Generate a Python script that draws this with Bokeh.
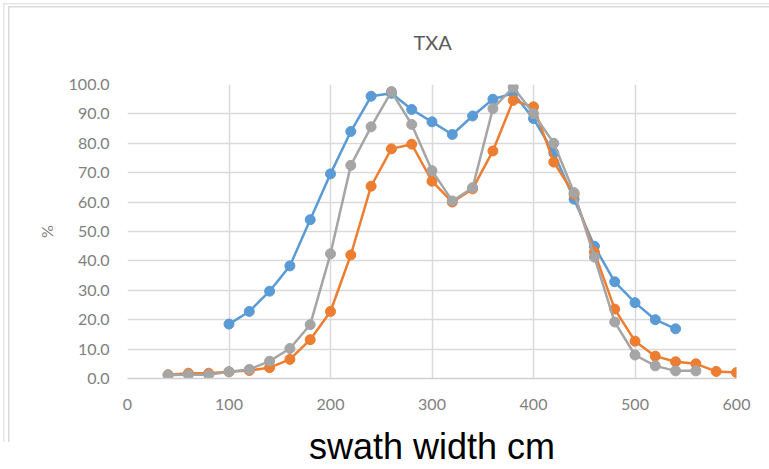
from bokeh.plotting import figure
from bokeh.models import Range1d, FixedTicker, NumeralTickFormatter, ColumnDataSource
from bokeh.embed import file_html
from bokeh.resources import INLINE

# ---- data ----
title_text = "TXA"
x_title = "swath width cm"
y_title = "%"

x_blue = list(range(100, 541, 20))
blue = [18.5, 22.8, 29.7, 38.3, 54.0, 69.6, 84.0, 96.0, 97.0, 91.5,
        87.3, 83.0, 89.3, 95.0, 97.0, 88.4, 76.7, 61.0, 45.0, 32.9,
        25.8, 20.0, 16.9]

x_orange = list(range(40, 601, 20))
orange = [1.3, 1.8, 1.8, 2.3, 2.7, 3.7, 6.5, 13.2, 22.8, 42.0,
          65.4, 78.1, 79.7, 67.1, 60.0, 64.5, 77.4, 94.6, 92.4, 73.6,
          62.6, 43.0, 23.6, 12.7, 7.6, 5.7, 5.0, 2.4, 2.0]

x_gray = list(range(40, 561, 20))
gray = [1.2, 1.3, 1.3, 2.3, 3.1, 5.9, 10.2, 18.3, 42.4, 72.5,
        85.6, 97.6, 86.4, 70.7, 60.4, 64.9, 91.8, 99.1, 90.1, 80.0,
        63.2, 41.3, 19.2, 8.0, 4.3, 2.6, 2.6]

x_ticks = [0, 100, 200, 300, 400, 500, 600]
y_ticks = [0, 10, 20, 30, 40, 50, 60, 70, 80, 90, 100]

series = [
    ("Series1", x_blue, blue, "#5B9BD5"),
    ("Series2", x_orange, orange, "#ED7D31"),
    ("Series3", x_gray, gray, "#A5A5A5"),
]

# ---- layout (pixels) ----
W, H = 769, 469
FL, FR, FT, FB = 127, 736, 84, 381   # plot-area edges

# chart-area frame lines drawn as CSS backgrounds behind the canvas
frame_lines = [  # (left, top, width, height, colour)
    (8, 6, 1.5, 436, "#d9d9d9"),
    (8, 6, 761, 1.5, "#d9d9d9"),
    (3, 3, 1.5, 439, "#e6e6e6"),
    (3, 3, 766, 1.5, "#e6e6e6"),
]
styles = {
    "background-image": ", ".join(f"linear-gradient({c}, {c})" for *_, c in frame_lines),
    "background-position": ", ".join(f"{l}px {t}px" for l, t, *_ in frame_lines),
    "background-size": ", ".join(f"{w}px {h}px" for _, _, w, h, _ in frame_lines),
    "background-repeat": "no-repeat",
    "background-color": "white",
}

p = figure(width=W, height=H, output_backend="svg", toolbar_location=None,
           x_range=Range1d(0, 600), y_range=Range1d(0, 100),
           min_border_left=FL, min_border_right=W - FR,
           min_border_top=FT, min_border_bottom=H - FB,
           styles=styles)
p.outline_line_color = None
p.background_fill_color = "white"
p.border_fill_color = None

# title
p.title.text = title_text
p.title.align = "left"
p.title.vertical_align = "top"
p.title.offset = 286
p.title.standoff = 58
p.title.text_font = "Lato"
p.title.text_font_size = "20px"
p.title.text_font_style = "normal"
p.title.text_color = "#5a5a5a"

grid_col = "#dadada"
p.xgrid.ticker = FixedTicker(ticks=x_ticks)
p.ygrid.ticker = FixedTicker(ticks=y_ticks)
p.xgrid.grid_line_color = grid_col
p.ygrid.grid_line_color = grid_col
p.xgrid.grid_line_width = 1.5
p.ygrid.grid_line_width = 1.5

lab_col = "#808080"
p.xaxis.ticker = FixedTicker(ticks=x_ticks)
p.yaxis.ticker = FixedTicker(ticks=y_ticks)
p.yaxis.formatter = NumeralTickFormatter(format="0.0")
for ax in (p.xaxis[0], p.yaxis[0]):
    ax.major_tick_line_color = None
    ax.minor_tick_line_color = None
    ax.major_label_text_font = "Lato"
    ax.major_label_text_font_size = "16px"
    ax.major_label_text_color = lab_col
p.xaxis.axis_line_color = "#d0d0d0"
p.xaxis.axis_line_width = 1.5
p.yaxis.axis_line_color = None
p.xaxis.major_label_standoff = 14
p.yaxis.major_label_standoff = 12

p.yaxis.axis_label = y_title
p.yaxis.axis_label_standoff = 10
p.yaxis.axis_label_text_font = "Lato"
p.yaxis.axis_label_text_font_size = "16px"
p.yaxis.axis_label_text_font_style = "normal"
p.yaxis.axis_label_text_color = lab_col

p.xaxis.axis_label = x_title
p.xaxis.axis_label_standoff = 13
p.xaxis.axis_label_text_font = "Liberation Sans"
p.xaxis.axis_label_text_font_size = "36px"
p.xaxis.axis_label_text_font_style = "normal"
p.xaxis.axis_label_text_color = "black"

for name, xs, ys, col in series:
    src = ColumnDataSource(dict(x=xs, y=ys))
    p.line("x", "y", source=src, line_color=col, line_width=2.5)
    p.scatter("x", "y", source=src, size=10, fill_color=col, line_color=col)

open("out.html", "w").write(file_html(p, INLINE))
